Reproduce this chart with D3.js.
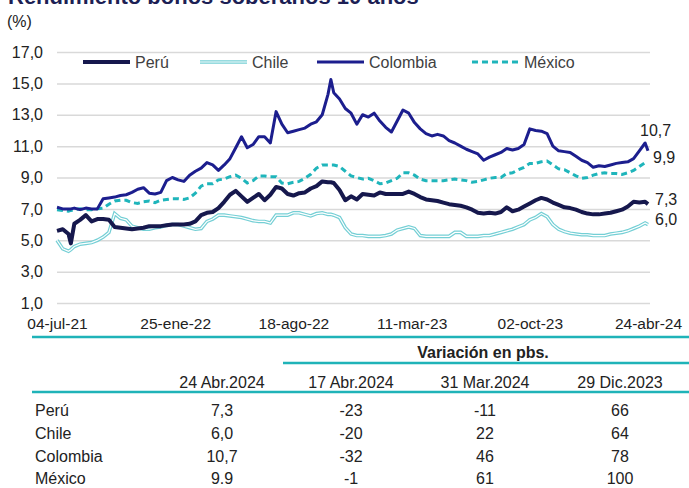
<!DOCTYPE html>
<html>
<head>
<meta charset="utf-8">
<script src="https://cdn.jsdelivr.net/npm/d3@7"></script>
<style>
  body { margin: 0; background: #fff; }
  svg text { font-family: "Liberation Sans", Arial, sans-serif; }
</style>
</head>
<body>
<div id="chart"></div>
<script>
let dates = ["2021-07-04","2021-07-14","2021-07-24","2021-07-28","2021-08-03","2021-08-13","2021-08-23","2021-09-02","2021-09-12","2021-09-22","2021-10-02","2021-10-12","2021-10-22","2021-11-01","2021-11-11","2021-11-21","2021-12-01","2021-12-11","2021-12-21","2021-12-31",
	"2022-01-10","2022-01-20","2022-01-30","2022-02-09","2022-02-19","2022-03-01","2022-03-11","2022-03-21","2022-03-31","2022-04-10","2022-04-20","2022-04-30","2022-05-10","2022-05-20","2022-05-30","2022-06-09","2022-06-19","2022-06-29","2022-07-09","2022-07-19","2022-07-29","2022-08-08","2022-08-18","2022-08-28","2022-09-07","2022-09-17","2022-09-27","2022-10-07","2022-10-17","2022-10-22","2022-10-27","2022-11-06","2022-11-16","2022-11-26","2022-12-06","2022-12-16","2022-12-26",
	"2023-01-05","2023-01-15","2023-01-25","2023-02-04","2023-02-14","2023-02-24","2023-03-06","2023-03-16","2023-03-26","2023-04-05","2023-04-15","2023-04-25","2023-05-05","2023-05-15","2023-05-25","2023-06-04","2023-06-14","2023-06-24","2023-07-04","2023-07-14","2023-07-24","2023-08-03","2023-08-13","2023-08-23","2023-09-02","2023-09-12","2023-09-22","2023-10-02","2023-10-12","2023-10-22","2023-11-01","2023-11-11","2023-11-21","2023-12-01","2023-12-11","2023-12-21","2023-12-31",
	"2024-01-10","2024-01-20","2024-01-30","2024-02-09","2024-02-19","2024-02-29","2024-03-10","2024-03-20","2024-03-30","2024-04-09","2024-04-19","2024-04-24"];

let peru = [5.6,5.7,5.4,4.8,6.05,6.3,6.6,6.2,6.35,6.35,6.3,5.85,5.8,5.75,5.7,5.75,5.8,5.9,5.9,5.9,
	5.95,6.0,6.0,6.0,6.05,6.2,6.6,6.75,6.8,7.05,7.45,7.9,8.15,7.8,7.45,7.7,7.95,7.55,7.9,8.4,8.3,7.95,7.85,8.0,8.05,8.3,8.45,8.75,8.7,8.7,8.65,8.2,7.55,7.8,7.6,7.95,7.9,
	7.85,8.05,7.95,7.95,7.95,7.95,8.1,7.95,7.75,7.6,7.55,7.5,7.4,7.3,7.25,7.2,7.1,6.95,6.75,6.7,6.75,6.7,6.8,7.1,6.85,6.95,7.15,7.35,7.55,7.7,7.6,7.4,7.25,7.1,7.05,6.95,6.8,
	6.7,6.65,6.65,6.7,6.75,6.85,6.95,7.15,7.45,7.4,7.45,7.3];

let chile = [5.0,4.45,4.3,4.4,4.6,4.75,4.8,4.85,5.0,5.2,5.5,6.7,6.4,6.3,5.9,5.8,5.7,5.7,5.8,5.85,
	5.95,6.0,6.0,5.9,5.8,5.7,5.75,6.2,6.35,6.6,6.6,6.55,6.5,6.45,6.35,6.25,6.2,6.2,6.1,6.6,6.6,6.6,6.75,6.75,6.65,6.55,6.7,6.75,6.65,6.65,6.6,6.45,5.8,5.4,5.3,5.3,5.25,
	5.25,5.25,5.3,5.4,5.65,5.75,5.85,5.75,5.3,5.25,5.25,5.25,5.25,5.25,5.5,5.5,5.25,5.25,5.25,5.3,5.3,5.4,5.5,5.6,5.7,5.85,6.0,6.3,6.45,6.7,6.5,6.0,5.7,5.55,5.45,5.4,5.35,
	5.35,5.3,5.3,5.3,5.4,5.45,5.5,5.6,5.75,5.9,6.1,6.0];

let colombia = [7.1,7.0,7.0,7.0,7.05,6.95,7.05,7.0,7.0,7.65,7.7,7.75,7.85,7.9,8.05,8.25,8.35,8.0,7.95,8.05,
	8.8,9.0,8.85,8.75,9.15,9.4,9.6,9.95,9.8,9.45,9.8,10.2,10.9,11.6,10.9,11.1,11.6,11.6,11.2,13.2,12.4,11.85,11.95,12.05,12.15,12.4,12.55,13.0,14.3,15.25,14.4,14.0,13.4,13.1,12.4,13.0,12.85,
	13.1,12.6,12.2,11.9,12.6,13.3,13.1,12.5,12.1,11.8,11.65,11.75,11.65,11.35,11.2,11.0,10.8,10.65,10.5,10.1,10.3,10.45,10.6,10.85,10.75,10.85,11.1,12.1,12.0,11.95,11.8,11.0,10.7,10.65,10.6,10.35,10.1,
	9.95,9.65,9.75,9.7,9.8,9.9,9.95,10.0,10.2,10.7,11.2,10.7];

let mexico = [6.95,6.9,6.85,6.9,6.95,7.0,6.95,6.95,7.0,7.05,7.3,7.5,7.55,7.55,7.4,7.35,7.45,7.5,7.4,7.55,
	7.6,7.65,7.65,7.6,7.7,8.0,8.45,8.6,8.6,8.85,8.9,9.05,9.15,8.95,8.65,8.8,9.1,9.1,9.05,9.05,8.65,8.6,8.7,8.75,8.95,9.2,9.6,9.8,9.8,9.8,9.8,9.7,9.4,9.1,9.0,8.9,8.95,
	8.8,8.6,8.65,8.8,8.95,9.3,9.3,9.15,8.9,8.8,8.8,8.8,8.8,8.85,8.9,8.85,8.8,8.7,8.75,8.85,8.95,9.0,9.0,9.25,9.3,9.5,9.65,9.9,9.9,10.0,10.05,9.8,9.55,9.5,9.3,9.1,8.95,
	9.0,9.15,9.25,9.3,9.25,9.25,9.2,9.3,9.45,9.7,9.95,9.9];

let seriesNames = ["Perú", "Chile", "Colombia", "México"];
let yTicks = [1, 3, 5, 7, 9, 11, 13, 15, 17];
let xTicks = ["2021-07-04", "2022-01-25", "2022-08-18", "2023-03-11", "2023-10-02", "2024-04-24"];
let endLabels = ["7,3", "6,0", "10,7", "9,9"];

// tabla
let tableHeaders = ["24 Abr.2024", "17 Abr.2024", "31 Mar.2024", "29 Dic.2023"];
let tableValues = [
	["7,3", "-23", "-11", "66"],
	["6,0", "-20", "22", "64"],
	["10,7", "-32", "46", "78"],
	["9.9", "-1", "61", "100"]
];

let parseDate = d3.timeParse("%Y-%m-%d");
let fmtMonth = ["ene","feb","mar","abr","may","jun","jul","ago","sep","oct","nov","dic"];
let formatTick = d => d3.timeFormat("%d")(d) + "-" + fmtMonth[d.getMonth()] + "-" + d3.timeFormat("%y")(d);

let width = 689, height = 488;
let svg = d3.select("#chart").append("svg")
	.attr("width", width)
	.attr("height", height);

let x = d3.scaleTime()
	.domain([parseDate("2021-07-04"), parseDate("2024-04-24")])
	.range([57, 648]);
let y = d3.scaleLinear()
	.domain([1, 17])
	.range([303, 52]);

// titulo (cortado arriba, como en el original)
svg.append("text")
	.attr("x", 8).attr("y", 4)
	.attr("fill", "#1d1f55")
	.style("font-size", "22px")
	.style("font-weight", "bold")
	.text("Rendimiento bonos soberanos 10 años");
svg.append("text")
	.attr("x", 7).attr("y", 27)
	.attr("fill", "#222")
	.style("font-size", "16px")
	.text("(%)");

/* grid + y axis */
let yAxis = d3.axisLeft(y)
	.tickValues(yTicks)
	.tickSize(-(650 - 57))
	.tickFormat(d => d3.format(".1f")(d).replace(".", ","));
let gy = svg.append("g")
	.attr("transform", "translate(57,0)")
	.call(yAxis);
gy.select(".domain").remove();
gy.selectAll("line").attr("stroke", "#d9d9d9").attr("stroke-width", 1.5);
gy.selectAll("text")
	.attr("x", -14)
	.attr("fill", "#222")
	.style("font-size", "16px");

/* x axis labels */
let xAxis = d3.axisBottom(x)
	.tickValues(xTicks.map(parseDate))
	.tickSize(0)
	.tickFormat(formatTick);
let gx = svg.append("g")
	.attr("transform", "translate(0,315)")
	.call(xAxis);
gx.select(".domain").remove();
gx.selectAll("text")
	.attr("fill", "#222")
	.style("font-size", "15.5px");

/* lines */
let line = d3.line()
	.x(d => x(d.date))
	.y(d => y(d.value));
let toPoints = vals => vals.map((v, i) => ({ date: parseDate(dates[i]), value: v }));

let lines = svg.append("g").attr("class", "lines");
// Chile: doble linea (contorno celeste, centro blanco)
lines.append("path")
	.attr("d", line(toPoints(chile)))
	.attr("fill", "none")
	.attr("stroke", "#74cfd5")
	.attr("stroke-width", 3.6);
lines.append("path")
	.attr("d", line(toPoints(chile)))
	.attr("fill", "none")
	.attr("stroke", "#fff")
	.attr("stroke-width", 1.2);
lines.append("path")
	.attr("d", line(toPoints(mexico)))
	.attr("fill", "none")
	.attr("stroke", "#1fb5bb")
	.attr("stroke-width", 3)
	.attr("stroke-dasharray", "6,4");
lines.append("path")
	.attr("d", line(toPoints(peru)))
	.attr("fill", "none")
	.attr("stroke", "#16184d")
	.attr("stroke-width", 4)
	.attr("stroke-linejoin", "round");
lines.append("path")
	.attr("d", line(toPoints(colombia)))
	.attr("fill", "none")
	.attr("stroke", "#1c1e8e")
	.attr("stroke-width", 3)
	.attr("stroke-linejoin", "round");

// etiquetas finales
let endPos = [[655, 205], [655, 225], [640, 136], [653, 163]];
svg.append("g").selectAll("text")
	.data(endLabels).enter()
	.append("text")
	.attr("x", (d, i) => endPos[i][0])
	.attr("y", (d, i) => endPos[i][1])
	.attr("fill", "#222")
	.style("font-size", "16px")
	.text(d => d);

/* legend */
let legendX = [83, 200, 317, 472];
let legend = svg.append("g").selectAll("g")
	.data(seriesNames).enter()
	.append("g")
	.attr("transform", (d, i) => "translate(" + legendX[i] + ",62)");
legend.each(function(d, i) {
	let g = d3.select(this);
	if (i === 1) {
		g.append("line").attr("x1", 0).attr("x2", 47).attr("stroke", "#74cfd5").attr("stroke-width", 3.6);
		g.append("line").attr("x1", 0).attr("x2", 47).attr("stroke", "#fff").attr("stroke-width", 1.2);
	} else {
		g.append("line").attr("x1", 0).attr("x2", 47)
			.attr("stroke", ["#16184d", null, "#1c1e8e", "#1fb5bb"][i])
			.attr("stroke-width", i === 0 ? 4 : 3)
			.attr("stroke-dasharray", i === 3 ? "6,4" : null);
	}
	g.append("text")
		.attr("x", 52).attr("y", 6)
		.attr("fill", "#404040")
		.style("font-size", "16px")
		.text(d);
});

/* tabla */
let teal = "#1fb3b8";
svg.append("line").attr("x1", 32).attr("x2", 689).attr("y1", 337).attr("y2", 337)
	.attr("stroke", teal).attr("stroke-width", 2.5);
svg.append("text")
	.attr("x", 483).attr("y", 358)
	.attr("text-anchor", "middle")
	.attr("fill", "#222")
	.style("font-size", "16px")
	.style("font-weight", "bold")
	.text("Variación en pbs.");
svg.append("line").attr("x1", 283).attr("x2", 689).attr("y1", 363).attr("y2", 363)
	.attr("stroke", teal).attr("stroke-width", 2.5);
svg.append("line").attr("x1", 32).attr("x2", 689).attr("y1", 392).attr("y2", 392)
	.attr("stroke", teal).attr("stroke-width", 2.5);

let colX = [222, 351, 485, 620];
svg.append("g").selectAll("text")
	.data(tableHeaders).enter()
	.append("text")
	.attr("x", (d, i) => colX[i])
	.attr("y", 388)
	.attr("text-anchor", "middle")
	.attr("fill", "#222")
	.style("font-size", "16px")
	.text(d => d);

let rowY = [416, 439, 462, 484];
let rows = svg.append("g").selectAll("g")
	.data(tableValues).enter()
	.append("g")
	.attr("transform", (d, i) => "translate(0," + rowY[i] + ")");
rows.append("text")
	.attr("x", 35)
	.attr("fill", "#222")
	.style("font-size", "16px")
	.text((d, i) => seriesNames[i]);
rows.selectAll("text.val")
	.data(d => d).enter()
	.append("text")
	.attr("class", "val")
	.attr("x", (d, i) => colX[i])
	.attr("text-anchor", "middle")
	.attr("fill", "#222")
	.style("font-size", "16px")
	.text(d => d);
</script>
</body>
</html>
